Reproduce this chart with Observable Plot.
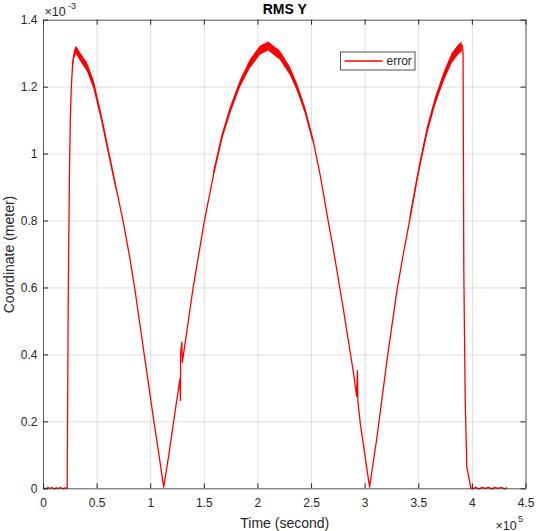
<!DOCTYPE html>
<html><head><meta charset="utf-8">
<script src="https://cdn.jsdelivr.net/npm/d3@7"></script>
<script src="https://cdn.jsdelivr.net/npm/@observablehq/plot@0.6"></script>
<style>body{margin:0;background:#fff} #chart{width:536px;height:531px}</style>
</head><body><div id="chart"></div>
<script>
// ---- data (time in seconds, error in meters) ----
const timeSec = [0,2000,4000,6000,8000,10000,12000,14000,16000,18000,20000,22100,
  22400,23000,23600,24200,25000,25800,27000,28300,29800,30800,33000,36000,41000,46900,
  54000,60900,68000,74800,80500,85000,94000,103000,107500,112100,
  116800,121300,125500,127200,127700,127900,129000,129500,130500,139500,150000,158700,
  166500,174300,183600,192900,202200,210000,220900,230200,236800,244200,251500,258500,
  265500,270500,279500,289200,292000,292800,293200,295500,304100,311000,320300,329600,
  335500,342000,350000,357800,365500,373500,381000,387000,390500,391300,392000,393300,394800,
  398500,400000,403000,406000,409000,412000,415000,418000,421000,424000,427000,430000,432000];
const errorM = [3e-6,0,4e-6,1e-6,4e-6,0,3e-6,1e-6,4e-6,0,3e-6,2e-6,
  0.194e-3,0.543e-3,0.750e-3,0.941e-3,1.100e-3,1.190e-3,1.260e-3,1.295e-3,1.305e-3,1.318e-3,1.300e-3,1.285e-3,1.262e-3,1.210e-3,
  1.112e-3,1.005e-3,0.895e-3,0.790e-3,0.690e-3,0.600e-3,0.400e-3,0.200e-3,0.105e-3,0.005e-3,
  0.100e-3,0.200e-3,0.290e-3,0.328e-3,0.264e-3,0.405e-3,0.438e-3,0.378e-3,0.400e-3,0.600e-3,0.800e-3,0.940e-3,
  1.050e-3,1.130e-3,1.210e-3,1.270e-3,1.310e-3,1.325e-3,1.295e-3,1.250e-3,1.200e-3,1.130e-3,1.040e-3,0.930e-3,
  0.800e-3,0.712e-3,0.540e-3,0.344e-3,0.277e-3,0.353e-3,0.262e-3,0.194e-3,0.005e-3,0.154e-3,0.383e-3,0.592e-3,
  0.700e-3,0.811e-3,0.951e-3,1.070e-3,1.160e-3,1.235e-3,1.290e-3,1.315e-3,1.325e-3,1.300e-3,0.650e-3,0.264e-3,0.065e-3,
  0.003e-3,0,4e-6,0,4e-6,1e-6,4e-6,0,4e-6,1e-6,4e-6,0,3e-6];

// visible noise envelope around the peaks
const bandSegment = [1,1,1,1,1,1,1,1,1,1, 2,2,2,2,2,2,2,2,2,2,2,2, 3,3,3,3,3,3,3,3];
const bandTime = [27000,29000,30800,33000,36000,41000,46900,54000,60900,68000,
  158700,166500,174300,183600,192900,202200,210000,220900,230200,236800,244200,251500,
  342000,350000,357800,365500,373500,381000,387000,390500];
const bandLow = [1.250e-3,1.285e-3,1.298e-3,1.285e-3,1.270e-3,1.245e-3,1.195e-3,1.100e-3,0.995e-3,0.888e-3,
  0.932e-3,1.040e-3,1.120e-3,1.198e-3,1.255e-3,1.295e-3,1.308e-3,1.280e-3,1.235e-3,1.187e-3,1.120e-3,1.032e-3,
  0.800e-3,0.938e-3,1.055e-3,1.143e-3,1.215e-3,1.270e-3,1.295e-3,1.305e-3];
const bandHigh = [1.270e-3,1.310e-3,1.322e-3,1.310e-3,1.295e-3,1.272e-3,1.222e-3,1.120e-3,1.012e-3,0.900e-3,
  0.948e-3,1.058e-3,1.140e-3,1.220e-3,1.282e-3,1.322e-3,1.335e-3,1.307e-3,1.260e-3,1.210e-3,1.140e-3,1.047e-3,
  0.818e-3,0.958e-3,1.078e-3,1.168e-3,1.243e-3,1.300e-3,1.325e-3,1.335e-3];

const xTicks = [0,50000,100000,150000,200000,250000,300000,350000,400000,450000];
const xTickLabels = ["0","0.5","1","1.5","2","2.5","3","3.5","4","4.5"];
const yTicks = [0,0.2e-3,0.4e-3,0.6e-3,0.8e-3,1.0e-3,1.2e-3,1.4e-3];
const yTickLabels = ["0","0.2","0.4","0.6","0.8","1","1.2","1.4"];
const titleText = "RMS Y";
const xLabel = "Time (second)";
const yLabel = "Coordinate (meter)";
const legendLabel = "error";

const data = timeSec.map((t, i) => ({t, e: errorM[i]}));
const band = bandTime.map((t, i) => ({t, lo: bandLow[i], hi: bandHigh[i], s: bandSegment[i]}));

const W = 536, H = 531, mL = 43, mR = 10.5, mT = 19.7, mB = 42.7;
const fw = W - mL - mR, fh = H - mT - mB;
const font = "'Liberation Sans', Arial, Helvetica, sans-serif";
const ink = "#262626";
const red = "#ff0000";

const plot = Plot.plot({
  width: W, height: H,
  marginLeft: mL, marginRight: mR, marginTop: mT, marginBottom: mB,
  x: {domain: [0, 450000], axis: null},
  y: {domain: [0, 0.0014], axis: null},
  style: {fontFamily: font, background: "#fff", overflow: "visible"},
  marks: [
    Plot.ruleX(xTicks, {stroke: ink, strokeOpacity: 0.15}),
    Plot.ruleY(yTicks, {stroke: ink, strokeOpacity: 0.15}),
    Plot.areaY(band, {x: "t", y1: "lo", y2: "hi", z: "s", fill: red, curve: "linear"}),
    Plot.line(data, {x: "t", y: "e", stroke: red, strokeWidth: 1.3}),
    Plot.frame({stroke: ink, strokeOpacity: 0.7}),
    Plot.ruleX(xTicks, {stroke: ink, insetTop: fh - 5}),
    Plot.ruleX(xTicks, {stroke: ink, insetBottom: fh - 5}),
    Plot.ruleY(yTicks, {stroke: ink, insetRight: fw - 5}),
    Plot.ruleY(yTicks, {stroke: ink, insetLeft: fw - 5}),
    Plot.text(xTicks, {x: d => d, text: (d, i) => xTickLabels[i], frameAnchor: "bottom", dy: 18.4,
      lineAnchor: "bottom", fill: ink, fontSize: 12}),
    Plot.text(yTicks, {y: d => d, text: (d, i) => yTickLabels[i], frameAnchor: "left", dx: -6,
      textAnchor: "end", lineAnchor: "middle", fill: ink, fontSize: 12}),
    Plot.text([titleText], {text: d => d, frameAnchor: "top", dy: -6.4, lineAnchor: "bottom",
      fontWeight: "bold", fontSize: 14, fill: "#000"}),
    Plot.text([xLabel], {text: d => d, frameAnchor: "bottom", dy: 38.7, lineAnchor: "bottom",
      fontSize: 14, fill: ink}),
    Plot.text([yLabel], {text: d => d, frameAnchor: "left", dx: -34, rotate: -90,
      lineAnchor: "middle", textAnchor: "middle", fontSize: 14, fill: ink}),
    Plot.text(["×10"], {text: d => d, frameAnchor: "top-left", dx: 1, dy: -4.7, textAnchor: "start",
      lineAnchor: "bottom", fontSize: 12.5, fill: ink}),
    Plot.text(["-3"], {text: d => d, frameAnchor: "top-left", dx: 24.5, dy: -11.2, textAnchor: "start",
      lineAnchor: "bottom", fontSize: 9, fill: ink}),
    Plot.text(["×10"], {text: d => d, frameAnchor: "bottom-right", dx: -30.5, dy: 40.7, textAnchor: "start",
      lineAnchor: "bottom", fontSize: 12.5, fill: ink}),
    Plot.text(["5"], {text: d => d, frameAnchor: "bottom-right", dx: -8, dy: 33.4, textAnchor: "start",
      lineAnchor: "bottom", fontSize: 9, fill: ink})
  ]
});

// legend box
const svg = d3.select(plot);
const lg = svg.append("g");
lg.append("rect").attr("x", 340.5).attr("y", 52).attr("width", 74.5).attr("height", 18)
  .attr("fill", "#fff").attr("stroke", ink).attr("stroke-opacity", 0.8);
lg.append("line").attr("x1", 344.5).attr("x2", 382.5).attr("y1", 61).attr("y2", 61)
  .attr("stroke", red).attr("stroke-width", 1.3);
lg.append("text").attr("x", 386.5).attr("y", 65.3).attr("font-size", 12)
  .attr("text-anchor", "start")
  .attr("font-family", font).attr("fill", ink).text(legendLabel);

document.getElementById("chart").appendChild(plot);
</script>
</body></html>
